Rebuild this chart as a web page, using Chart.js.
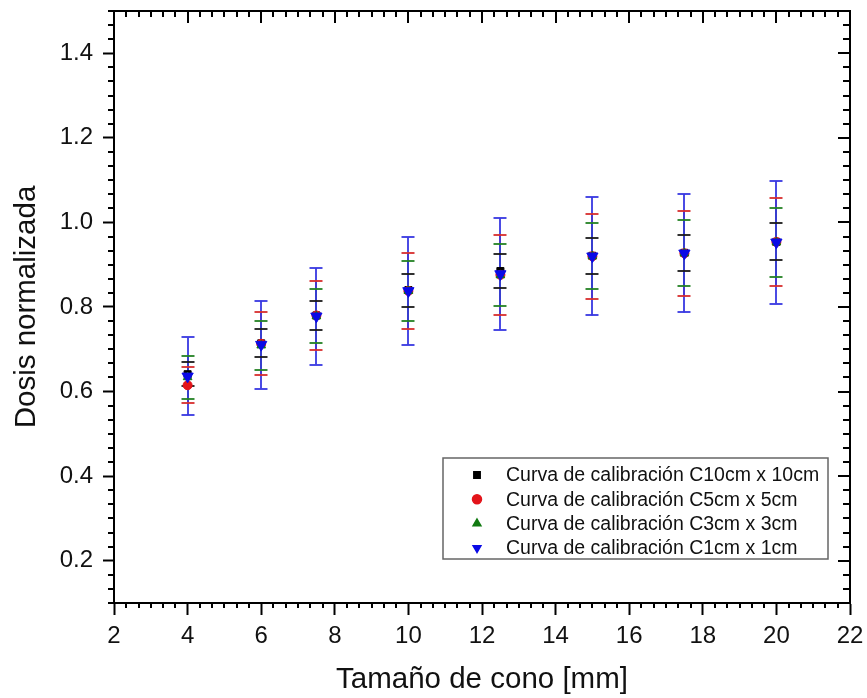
<!DOCTYPE html>
<html>
<head>
<meta charset="utf-8">
<script src="https://cdn.jsdelivr.net/npm/chart.js@4.4.0/dist/chart.umd.min.js"></script>
<style>
  html, body { margin: 0; padding: 0; background: #fff; }
</style>
</head>
<body>
<canvas id="myChart" width="867" height="698"></canvas>
<script>
const conos = [4, 6, 7.5, 10, 12.5, 15, 17.5, 20];

const dosisC10 = [0.641, 0.714, 0.780, 0.840, 0.885, 0.921, 0.928, 0.954];
const errC10   = [0.029, 0.033, 0.035, 0.039, 0.041, 0.043, 0.043, 0.044];
const dosisC5  = [0.615, 0.713, 0.780, 0.838, 0.876, 0.920, 0.927, 0.954];
const errC5    = [0.043, 0.074, 0.082, 0.090, 0.095, 0.100, 0.100, 0.104];
const dosisC3  = [0.634, 0.709, 0.778, 0.838, 0.875, 0.920, 0.927, 0.953];
const errC3    = [0.051, 0.058, 0.064, 0.071, 0.073, 0.078, 0.078, 0.081];
const dosisC1  = [0.636, 0.711, 0.778, 0.838, 0.878, 0.920, 0.927, 0.953];
const errC1    = [0.092, 0.104, 0.114, 0.127, 0.132, 0.140, 0.140, 0.145];

const xTicks = [2, 4, 6, 8, 10, 12, 14, 16, 18, 20, 22];
const yTicks = [0.2, 0.4, 0.6, 0.8, 1.0, 1.2, 1.4];

const fuente = "'Liberation Sans', Arial, sans-serif";

function puntos(ys, errs) {
    return conos.map((x, i) => ({x: x, y: ys[i], err: errs[i]}));
}

const datasets = [
    {label: 'Curva de calibración C10cm x 10cm', data: puntos(dosisC10, errC10), pointStyle: 'rect', rotation: 0,
     backgroundColor: '#000000', borderColor: '#000000', errColor: 'rgba(25,25,25,0.9)', order: 4, pointRadius: 5},
    {label: 'Curva de calibración C5cm x 5cm', data: puntos(dosisC5, errC5), pointStyle: 'circle', rotation: 0,
     backgroundColor: '#e3141a', borderColor: '#e3141a', errColor: 'rgba(215,45,45,0.9)', order: 3, pointRadius: 4.5},
    {label: 'Curva de calibración C3cm x 3cm', data: puntos(dosisC3, errC3), pointStyle: 'triangle', rotation: 0,
     backgroundColor: '#117a11', borderColor: '#117a11', errColor: 'rgba(35,130,35,0.9)', order: 2, pointRadius: 5},
    {label: 'Curva de calibración C1cm x 1cm', data: puntos(dosisC1, errC1), pointStyle: 'triangle', rotation: 180,
     backgroundColor: '#0a0ae6', borderColor: '#0a0ae6', errColor: 'rgba(55,55,225,0.9)', order: 1, pointRadius: 6.5}
];

// barras de error: primero las lineas verticales, luego los topes
const barrasError = {
    id: 'barrasError',
    beforeDatasetsDraw(chart) {
        const {ctx, scales: {x, y}} = chart;
        const orden = [0, 1, 2, 3];
        ctx.save();
        ctx.lineWidth = 2;
        orden.forEach(k => {
            const ds = chart.data.datasets[k];
            ctx.strokeStyle = ds.errColor;
            ds.data.forEach(p => {
                const px = Math.round(x.getPixelForValue(p.x));
                ctx.beginPath();
                ctx.moveTo(px, y.getPixelForValue(p.y + p.err));
                ctx.lineTo(px, y.getPixelForValue(p.y - p.err));
                ctx.stroke();
            });
        });
        orden.forEach(k => {
            const ds = chart.data.datasets[k];
            ctx.strokeStyle = ds.errColor;
            ds.data.forEach(p => {
                const px = Math.round(x.getPixelForValue(p.x));
                [p.y + p.err, p.y - p.err].forEach(v => {
                    const py = Math.round(y.getPixelForValue(v));
                    ctx.beginPath();
                    ctx.moveTo(px - 6.5, py);
                    ctx.lineTo(px + 6.5, py);
                    ctx.stroke();
                });
            });
        });
        ctx.restore();
    }
};

// marco superior/derecho y marcas menores
const marco = {
    id: 'marco',
    afterDraw(chart) {
        const {ctx, chartArea: a, scales: {x, y}} = chart;
        ctx.save();
        ctx.strokeStyle = '#000';
        ctx.lineWidth = 2;
        ctx.beginPath();
        ctx.moveTo(a.left, a.top);
        ctx.lineTo(a.right, a.top);
        ctx.lineTo(a.right, a.bottom);
        ctx.stroke();

        ctx.beginPath();
        for (let i = 6; i <= 66; i++) {
            const px = Math.round(x.getPixelForValue(i / 3));
            const mayor = i % 6 === 0;
            if (!mayor) {
                ctx.moveTo(px, a.bottom);
                ctx.lineTo(px, a.bottom + 5);
            }
            ctx.moveTo(px, a.top);
            ctx.lineTo(px, a.top + (mayor ? 12 : 6));
        }
        for (let i = 3; i <= 45; i++) {
            const py = Math.round(y.getPixelForValue(i / 30));
            const mayor = i % 6 === 0;
            if (!mayor) {
                ctx.moveTo(a.left, py);
                ctx.lineTo(a.left - 6, py);
            }
            ctx.moveTo(a.right, py);
            ctx.lineTo(a.right - (mayor ? 12 : 7), py);
        }
        ctx.stroke();
        ctx.restore();
    }
};

// leyenda dentro del area de datos
const leyenda = {
    id: 'leyenda',
    afterDraw(chart) {
        const {ctx} = chart;
        const caja = {left: 443, top: 458, right: 828, bottom: 559};
        ctx.save();
        ctx.fillStyle = '#fff';
        ctx.fillRect(caja.left, caja.top, caja.right - caja.left, caja.bottom - caja.top);
        ctx.strokeStyle = '#666';
        ctx.lineWidth = 1.5;
        ctx.strokeRect(caja.left, caja.top, caja.right - caja.left, caja.bottom - caja.top);
        ctx.font = '19.5px ' + fuente;
        ctx.textBaseline = 'middle';
        chart.data.datasets.forEach((ds, i) => {
            const cy = 475 + i * 24.3;
            ctx.fillStyle = ds.backgroundColor;
            ctx.strokeStyle = ds.borderColor;
            Chart.helpers.drawPoint(ctx, {pointStyle: ds.pointStyle, radius: 4.5, rotation: ds.rotation, borderWidth: 1}, 477, cy);
            ctx.fillStyle = '#111';
            ctx.fillText(ds.label, 506, cy + 1);
        });
        ctx.restore();
    }
};

const options = {
    type: 'scatter',
    data: {datasets: datasets},
    options: {
        responsive: false,
        animation: false,
        devicePixelRatio: 1,
        layout: {padding: {top: 11, right: 17, left: 0, bottom: 0}},
        plugins: {
            legend: {display: false},
            tooltip: {enabled: false}
        },
        elements: {point: {borderWidth: 1}},
        scales: {
            x: {
                type: 'linear',
                min: 2,
                max: 22,
                afterBuildTicks: s => { s.ticks = xTicks.map(v => ({value: v})); },
                afterFit: s => { s.height = 95; s.paddingLeft = 0; s.paddingRight = 0; },
                ticks: {font: {size: 24, family: fuente}, color: '#111', padding: 7, maxRotation: 0},
                grid: {drawOnChartArea: false, drawTicks: true, tickLength: 12, tickWidth: 2, tickColor: '#000'},
                border: {color: '#000', width: 2},
                title: {
                    display: true,
                    text: 'Tamaño de cono [mm]',
                    color: '#111',
                    font: {size: 29.5, family: fuente, lineHeight: 1},
                    padding: {top: 0, bottom: 3}
                }
            },
            y: {
                type: 'linear',
                min: 0.1,
                max: 1.5,
                afterBuildTicks: s => { s.ticks = yTicks.map(v => ({value: v})); },
                afterFit: s => { s.width = 114; s.paddingTop = 0; s.paddingBottom = 0; },
                ticks: {font: {size: 24, family: fuente}, color: '#111', padding: 10,
                        callback: v => v.toFixed(1)},
                grid: {drawOnChartArea: false, drawTicks: true, tickLength: 11, tickWidth: 2, tickColor: '#000'},
                border: {color: '#000', width: 2},
                title: {
                    display: true,
                    text: 'Dosis normalizada',
                    color: '#111',
                    font: {size: 29.5, family: fuente, lineHeight: 1},
                    padding: {top: 12, bottom: 0}
                }
            }
        }
    },
    plugins: [barrasError, marco, leyenda]
};

const ctx = document.getElementById('myChart').getContext('2d');
const chart = new Chart(ctx, options);
</script>
</body>
</html>
